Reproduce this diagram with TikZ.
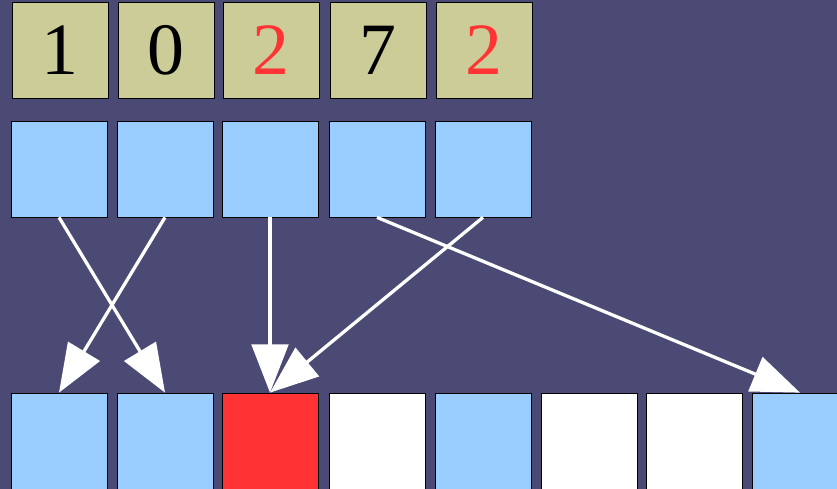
\documentclass[tikz,border=0pt]{standalone}
\usepackage{fontspec}
\setmainfont{Liberation Serif}
\usetikzlibrary{arrows.meta}
\definecolor{bgpurple}{HTML}{4B4A74}
\definecolor{digitbox}{HTML}{CCCC99}
\definecolor{slotblue}{HTML}{99CCFF}
\definecolor{hitred}  {HTML}{FF3333}
\begin{document}
\begin{tikzpicture}[
  x=0.03cm, y=-0.03cm,
  % One pixel of the layout is one unit; every cell is 96 units square.
  cell/.style={draw=black, line width=0.6pt, minimum size=2.88cm, inner sep=0pt,
               font=\fontsize{63}{66}\selectfont},
  digit/.style={cell, fill=digitbox},
  slot/.style={cell, fill=slotblue},
  empty/.style={cell, fill=white},
  hit/.style={cell, fill=hitred},
  hash/.style={-{Triangle[length=1.45cm, width=1.1cm]}, line width=2.8pt, white}
]
\fill[bgpurple] (0,0) rectangle (837,489);
\useasboundingbox (0,0) rectangle (837,489);

% --- Input digits ---
\node[digit] (d1) at (60,50)  {1};
\node[digit] (d2) at (166,50) {0};
\node[digit, text=hitred] (d3) at (271,50) {2};
\node[digit] (d4) at (378,50) {7};
\node[digit, text=hitred] (d5) at (484,50) {2};

% --- Keys ---
\node[slot] (k1) at (59,169)  {};
\node[slot] (k2) at (165,169) {};
\node[slot] (k3) at (270,169) {};
\node[slot] (k4) at (377,169) {};
\node[slot] (k5) at (483,169) {};

% --- Table ---
\node[slot]  (t0) at (59,441)  {};
\node[slot]  (t1) at (165,441) {};
\node[hit]   (t2) at (270,441) {};
\node[empty] (t3) at (377,441) {};
\node[slot]  (t4) at (483,441) {};
\node[empty] (t5) at (589,441) {};
\node[empty] (t6) at (694,441) {};
\node[slot]  (t7) at (800,441) {};

% --- Mapping ---
\draw[hash] (k1.south) -- (t1.north);
\draw[hash] (k2.south) -- (t0.north);
\draw[hash] (k3.south) -- (t2.north);
\draw[hash] (k4.south) -- (t7.north);
\draw[hash] (k5.south) -- (t2.north);

\end{tikzpicture}
\end{document}
